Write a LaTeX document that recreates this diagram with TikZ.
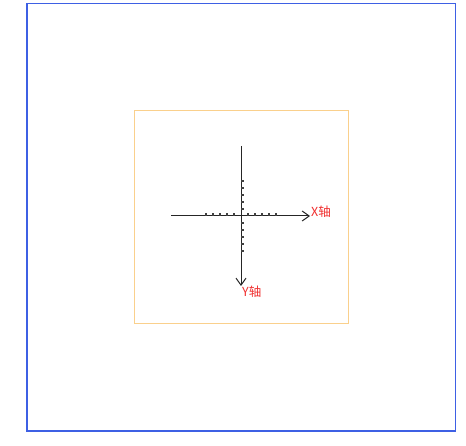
\documentclass[tikz,border=0pt]{standalone}
\usepackage{fontspec}
\newfontfamily\cjkfont{Noto Sans CJK SC}
\usetikzlibrary{arrows.meta,calc}
\definecolor{frameblue}{RGB}{62,96,228}
\definecolor{frameorange}{RGB}{250,208,140}
\definecolor{labelred}{RGB}{240,45,45}
\tikzset{
  outerframe/.style={
    draw=frameblue,
    line width=1.5pt
  },
  innerframe/.style={
    draw=frameorange,
    line width=0.9pt
  },
  axisline/.style={
    draw=black!85,
    line width=1pt,
    -{Straight Barb[length=7pt,width=10pt]}
  },
  axistick/.style={
    draw=black!75,
    line width=1.2pt
  },
  axislabel/.style={
    text=labelred,
    font=\cjkfont\fontsize{12.5}{12.5}\selectfont,
    inner sep=0pt,
    anchor=west
  }
}

\begin{document}
\begin{tikzpicture}[x=1pt,y=-1pt]
            \useasboundingbox (0,0) rectangle (466,446);
            \draw[outerframe] (27,3.5) rectangle (455.5,431);
            \draw[innerframe] (134.5,110.5) rectangle (348,323);
            \coordinate (o) at (241,216);
            \coordinate (xstart) at (171,216);
            \coordinate (xend) at (310,216);
            \coordinate (ystart) at (241,146);
            \coordinate (yend) at (241,286);
            \draw[axisline] (xstart) -- (xend);
            \draw[axisline] (ystart) -- (yend);
            \foreach \k in {1,...,5}{
                    \draw[axistick] ($(o)+(7*\k,0)$) --++ (0,-2.5);
                    \draw[axistick] ($(o)+(-7*\k,0)$) --++ (0,-2.5);
                    \draw[axistick] ($(o)+(0,7*\k)$) --++ (2.5,0);
                    \draw[axistick] ($(o)+(0,-7*\k)$) --++ (2.5,0);
                }
            \node[axislabel] (xlabel) at (311,211.5) {X轴};
            \node[axislabel] (ylabel) at (242,291.5) {Y轴};
        \end{tikzpicture}
\end{document}
